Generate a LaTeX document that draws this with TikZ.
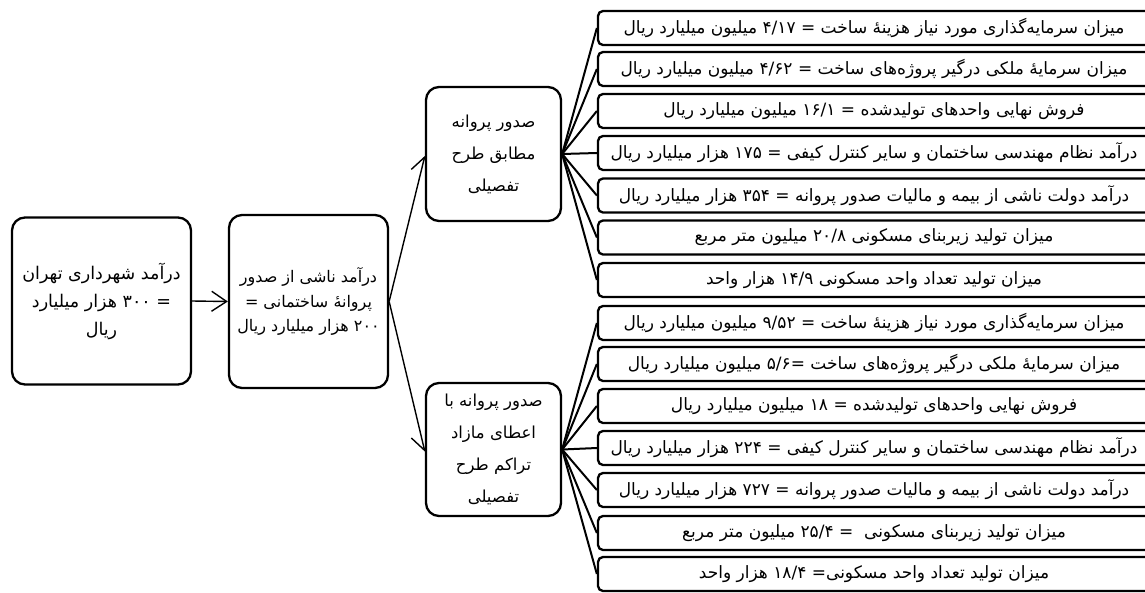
\documentclass[tikz,border=0pt]{standalone}
\usepackage{fontspec}
\newfontfamily\farsi[Script=Arabic]{DejaVu Sans}
\TeXXeTstate=1
\usetikzlibrary{arrows.meta,backgrounds}
\newcommand\fa[1]{{\farsi\beginR #1\endR}}
\tikzset{
  bigbox/.style={draw, fill=white, line width=2.3pt, rounded corners=13pt, align=center, inner sep=2pt},
  itembox/.style={draw, fill=white, line width=2.3pt, rounded corners=5pt, minimum width=552pt, minimum height=34pt, inner sep=1pt, font=\fontsize{17}{20}\selectfont},
  fan/.style={line width=2pt},
  link/.style={line width=1.4pt, -{Straight Barb[length=15pt,width=20pt,line width=1.4pt]}}
}
\begin{document}
\begin{tikzpicture}[x=1pt,y=-1pt]
\useasboundingbox (0,0) rectangle (1145,592);
\clip (0,0) rectangle (1145,592);
\node[bigbox, minimum width=179pt, minimum height=167pt, font=\fontsize{17.5}{28}\selectfont] (A) at (101.5,301)
  {\fa{درآمد شهرداری تهران}\\ \fa{= ۳۰۰ هزار میلیارد}\\ \fa{ریال}};
\node[bigbox, minimum width=159pt, minimum height=173pt, font=\fontsize{16}{24.5}\selectfont] (B) at (308.5,301.5)
  {\fa{درآمد ناشی از صدور}\\ \fa{پروانهٔ ساختمانی =}\\ \fa{۲۰۰ هزار میلیارد ریال}};
\node[bigbox, minimum width=135pt, minimum height=134pt, font=\fontsize{16.5}{32}\selectfont] (C) at (493.5,154)
  {\fa{صدور پروانه}\\ \fa{مطابق طرح}\\ \fa{تفصیلی}};
\node[bigbox, minimum width=135pt, minimum height=133pt, font=\fontsize{16.5}{32}\selectfont] (D) at (493.5,449.5)
  {\fa{صدور پروانه با}\\ \fa{اعطای مازاد}\\ \fa{تراکم طرح}\\ \fa{تفصیلی}};
% upper group
\node[itembox] (u1) at (874,28) {\fa{میزان سرمایه‌گذاری مورد نیاز هزینهٔ ساخت = ۴/۱۷ میلیون میلیارد ریال}};
\node[itembox] (u2) at (874,69) {\fa{میزان سرمایهٔ ملکی درگیر پروژه‌های ساخت = ۴/۶۲ میلیون میلیارد ریال}};
\node[itembox] (u3) at (874,111) {\fa{فروش نهایی واحدهای تولیدشده = ۱۶/۱ میلیون میلیارد ریال}};
\node[itembox] (u4) at (874,153) {\fa{درآمد نظام مهندسی ساختمان و سایر کنترل کیفی = ۱۷۵ هزار میلیارد ریال}};
\node[itembox] (u5) at (874,195.5) {\fa{درآمد دولت ناشی از بیمه و مالیات صدور پروانه = ۳۵۴ هزار میلیارد ریال}};
\node[itembox] (u6) at (874,237.5) {\fa{میزان تولید زیربنای مسکونی ۲۰/۸ میلیون متر مربع}};
\node[itembox] (u7) at (874,280) {\fa{میزان تولید تعداد واحد مسکونی ۱۴/۹ هزار واحد}};
% lower group
\node[itembox] (l1) at (874,323) {\fa{میزان سرمایه‌گذاری مورد نیاز هزینهٔ ساخت = ۹/۵۲ میلیون میلیارد ریال}};
\node[itembox] (l2) at (874,364) {\fa{میزان سرمایهٔ ملکی درگیر پروژه‌های ساخت =۵/۶ میلیون میلیارد ریال}};
\node[itembox] (l3) at (874,406) {\fa{فروش نهایی واحدهای تولیدشده = ۱۸ میلیون میلیارد ریال}};
\node[itembox] (l4) at (874,448) {\fa{درآمد نظام مهندسی ساختمان و سایر کنترل کیفی = ۲۲۴ هزار میلیارد ریال}};
\node[itembox] (l5) at (874,490) {\fa{درآمد دولت ناشی از بیمه و مالیات صدور پروانه = ۷۲۷ هزار میلیارد ریال}};
\node[itembox] (l6) at (874,533) {\fa{میزان تولید زیربنای مسکونی\ \ = ۲۵/۴ میلیون متر مربع}};
\node[itembox] (l7) at (874,574) {\fa{میزان تولید تعداد واحد مسکونی= ۱۸/۴ هزار واحد}};
\begin{scope}[on background layer]
\draw[link] (A.east) -- (B.west);
\draw[link] (B.east) -- ([yshift=-2pt]C.west);
\draw[link] (B.east) -- ([yshift=-2pt]D.west);
\foreach \i in {1,...,7} {
  \draw[fan] (C.east) -- (u\i.west);
  \draw[fan] (D.east) -- (l\i.west);
}
\end{scope}
\end{tikzpicture}
\end{document}
